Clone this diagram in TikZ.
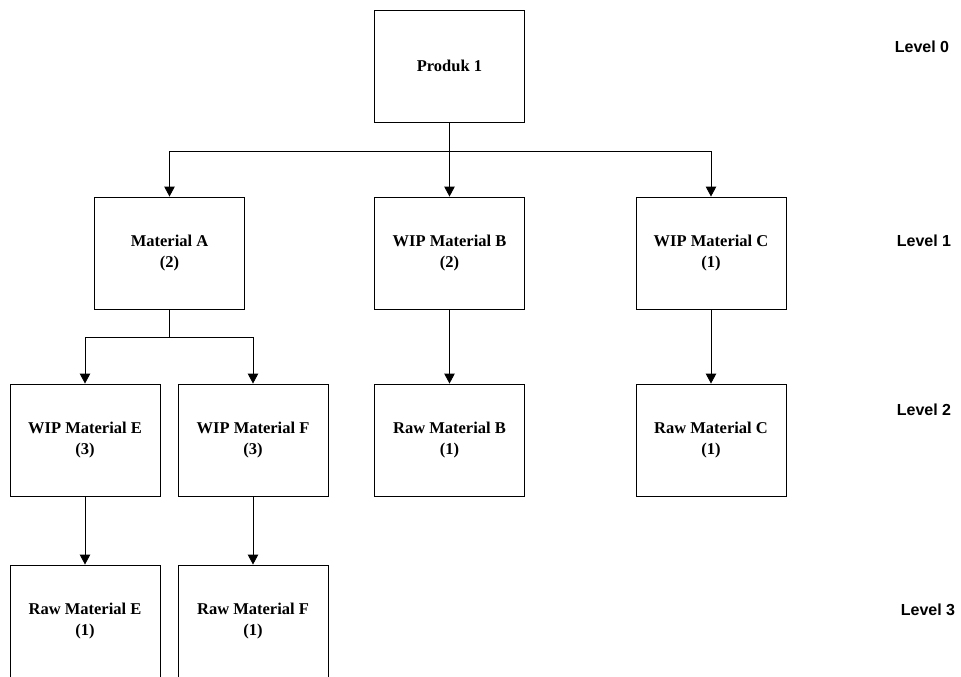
\documentclass[tikz,border=0pt]{standalone}
\usepackage{fontspec}
\setmainfont{Liberation Serif}
\newfontfamily\levelfont{Liberation Sans}
\usetikzlibrary{arrows.meta,calc}

\tikzset{
  item/.style={draw, line width=0.9pt, minimum width=150pt, minimum height=112pt,
    inner sep=0pt, align=center, font=\fontsize{16.5}{21}\selectfont\bfseries},
  levellabel/.style={font=\levelfont\fontsize{16}{19}\selectfont\bfseries, inner sep=0pt},
  link/.style={line width=0.9pt, -{Triangle[width=10.5pt,length=10pt]}},
  trunk/.style={line width=0.9pt}
}

\begin{document}
\begin{tikzpicture}[x=1pt, y=-1pt]
  \useasboundingbox (0,0) rectangle (961,677);
  \clip (-2,-2) rectangle (963,676.3);

  % level 0
  \node[item] (p1) at (449.5,66) {Produk 1};

  % level 1
  \node[item] (mA) at (169.5,253) {Material A\\(2)};
  \node[item] (wB) at (449.5,253) {WIP Material B\\(2)};
  \node[item] (wC) at (711,253)   {WIP Material C\\(1)};

  % level 2
  \node[item] (wE) at (85,440)    {WIP Material E\\(3)};
  \node[item] (wF) at (253,440)   {WIP Material F\\(3)};
  \node[item] (rB) at (449.5,440) {Raw Material B\\(1)};
  \node[item] (rC) at (711,440)   {Raw Material C\\(1)};

  % level 3
  \node[item] (rE) at (85,621)    {Raw Material E\\(1)};
  \node[item] (rF) at (253,621)   {Raw Material F\\(1)};

  % level labels
  \node[levellabel] (l0) at (922,47)  {Level 0};
  \node[levellabel] (l1) at (924,241) {Level 1};
  \node[levellabel] (l2) at (924,410) {Level 2};
  \node[levellabel] (l3) at (928,610) {Level 3};

  % branches from Produk 1
  \coordinate (j0) at ($(p1.south)+(0,29)$);
  \draw[trunk] (p1.south) -- (j0);
  \draw[link] (j0) -| (mA.north);
  \draw[link] (j0) -- (wB.north);
  \draw[link] (j0) -| (wC.north);

  % branches from Material A
  \coordinate (j1) at ($(mA.south)+(0,28)$);
  \draw[trunk] (mA.south) -- (j1);
  \draw[link] (j1) -| (wE.north);
  \draw[link] (j1) -| (wF.north);

  % single links
  \draw[link] (wB.south) -- (rB.north);
  \draw[link] (wC.south) -- (rC.north);
  \draw[link] (wE.south) -- (rE.north);
  \draw[link] (wF.south) -- (rF.north);
\end{tikzpicture}
\end{document}
